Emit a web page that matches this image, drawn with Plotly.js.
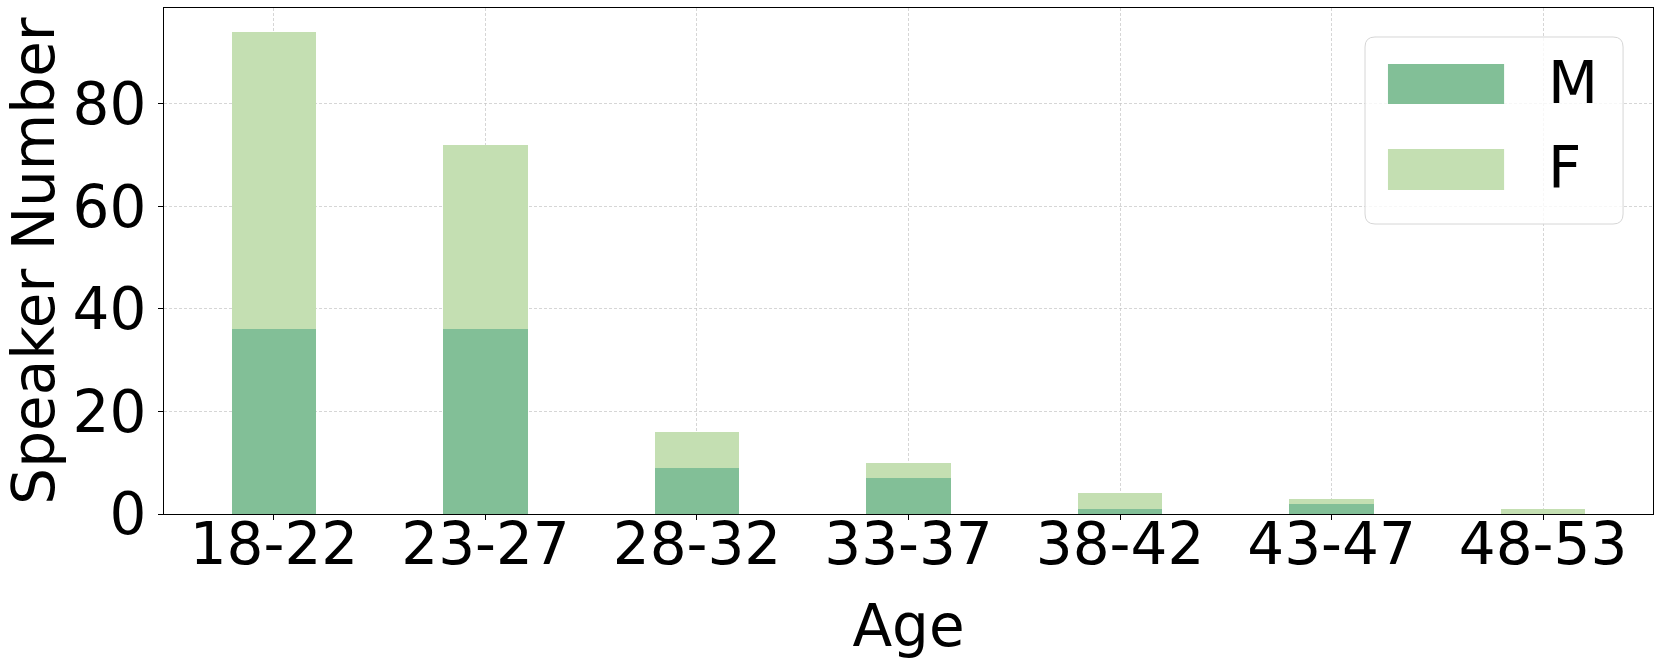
<!DOCTYPE html>
<html>
<head>
<meta charset="utf-8">
<script src="https://cdn.plot.ly/plotly-3.0.1.min.js"></script>
<style>html,body{margin:0;padding:0;background:#fff;}#chart{width:1661px;height:660px;}</style>
</head>
<body>
<div id="chart"></div>
<script>
const ageGroups = ["18-22", "23-27", "28-32", "33-37", "38-42", "43-47", "48-53"];
const maleCounts = [36, 36, 9, 7, 1, 2, 0];
const femaleCounts = [58, 36, 7, 3, 3, 1, 1];
const yTicks = [0, 20, 40, 60, 80];

const colM = "#82bf97";
const colF = "#c4dfb2";
const FONT = "DejaVu Sans, sans-serif";

const traces = [
  {type: "bar", name: "M", x: ageGroups, y: maleCounts, width: 0.4,
   marker: {color: colM, line: {width: 0}}, showlegend: false},
  {type: "bar", name: "F", x: ageGroups, y: femaleCounts, width: 0.4,
   marker: {color: colF, line: {width: 0}}, showlegend: false}
];

// legend drawn in paper coordinates
const L = {x0: 0.8066, x1: 0.9799, y0: 0.5731, y1: 0.9427, rx: 10/1489, ry: 10/506};
const boxPath = `M ${L.x0+L.rx},${L.y1} L ${L.x1-L.rx},${L.y1} Q ${L.x1},${L.y1} ${L.x1},${L.y1-L.ry} ` +
  `L ${L.x1},${L.y0+L.ry} Q ${L.x1},${L.y0} ${L.x1-L.rx},${L.y0} L ${L.x0+L.rx},${L.y0} ` +
  `Q ${L.x0},${L.y0} ${L.x0},${L.y0+L.ry} L ${L.x0},${L.y1-L.ry} Q ${L.x0},${L.y1} ${L.x0+L.rx},${L.y1} Z`;

const layout = {
  width: 1661, height: 660,
  margin: {l: 164, r: 8, t: 8, b: 146},
  paper_bgcolor: "#fff", plot_bgcolor: "#fff",
  barmode: "stack",
  font: {family: FONT, color: "#000"},
  showlegend: false,
  xaxis: {
    type: "category", range: [-0.52, 6.52],
    showline: true, linecolor: "#000", linewidth: 1, mirror: true,
    ticks: "outside", ticklen: 5, tickwidth: 1, tickcolor: "#000",
    tickfont: {size: 58, family: FONT}, ticklabelstandoff: -26,
    showgrid: true, gridcolor: "#c4c4c4", gridwidth: 0.7, griddash: "3px,2px",
    title: {text: "Age", font: {size: 58, family: FONT}, standoff: 30},
    zeroline: false
  },
  yaxis: {
    range: [0, 98.7], tickvals: yTicks, ticktext: yTicks.map(String),
    showline: true, linecolor: "#000", linewidth: 1, mirror: true,
    ticks: "outside", ticklen: 5, tickwidth: 1, tickcolor: "#000",
    tickfont: {size: 58, family: FONT},
    showgrid: true, gridcolor: "#c4c4c4", gridwidth: 0.7, griddash: "3px,2px",
    title: {text: "Speaker Number", font: {size: 58, family: FONT}, standoff: 10},
    zeroline: false
  },
  shapes: [
    {type: "path", xref: "paper", yref: "paper", path: boxPath,
     fillcolor: "rgba(255,255,255,0.8)", line: {color: "#d6d6d6", width: 1}},
    {type: "rect", xref: "paper", yref: "paper", x0: 0.8220, x1: 0.9000, y0: 0.8103, y1: 0.8893,
     fillcolor: colM, line: {width: 0}},
    {type: "rect", xref: "paper", yref: "paper", x0: 0.8220, x1: 0.9000, y0: 0.6403, y1: 0.7213,
     fillcolor: colF, line: {width: 0}}
  ],
  annotations: [
    {xref: "paper", yref: "paper", x: 0.9281, y: 0.8508, xanchor: "left", yanchor: "middle",
     text: "M", showarrow: false, font: {size: 58, family: FONT, color: "#000"}},
    {xref: "paper", yref: "paper", x: 0.9281, y: 0.6838, xanchor: "left", yanchor: "middle",
     text: "F", showarrow: false, font: {size: 58, family: FONT, color: "#000"}}
  ]
};

Plotly.newPlot("chart", traces, layout, {displayModeBar: false, staticPlot: true});
</script>
</body>
</html>
